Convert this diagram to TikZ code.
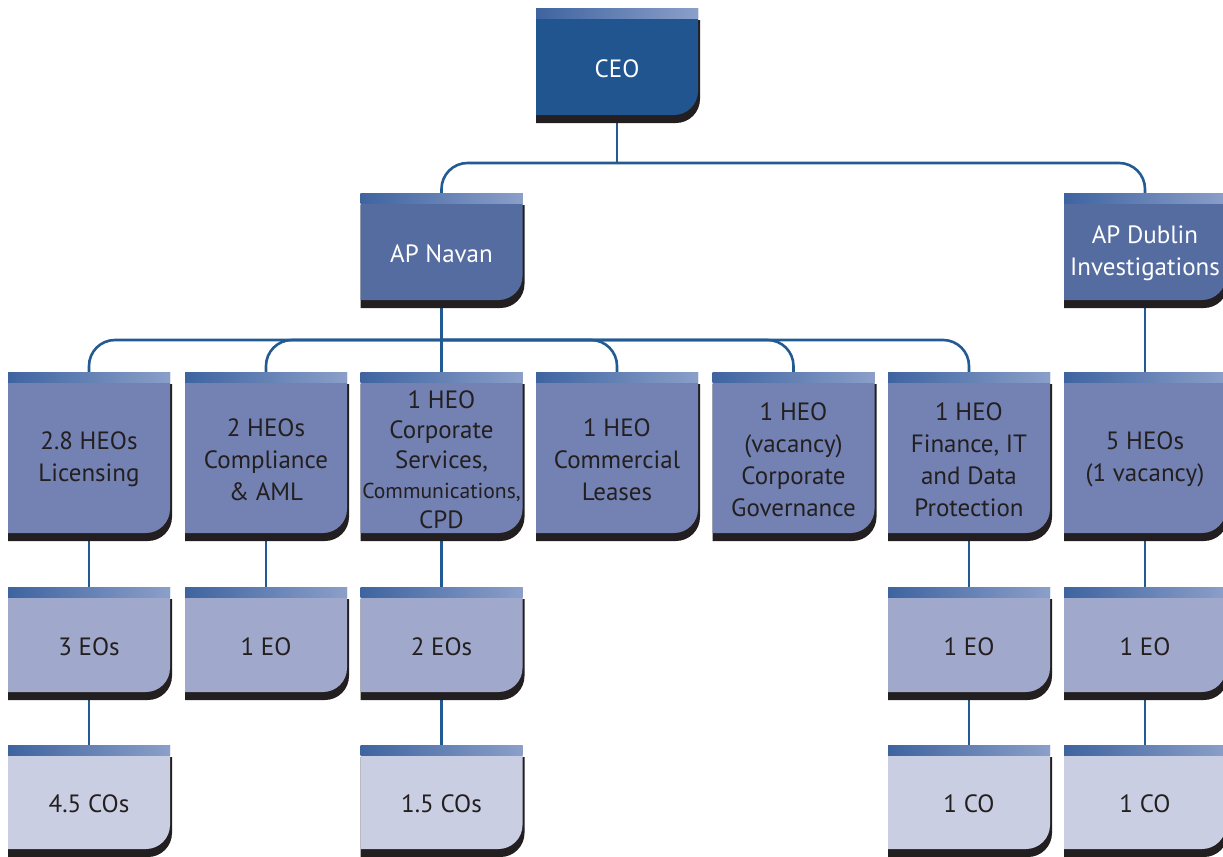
\documentclass[tikz,border=0pt]{standalone}
\usepackage{fontspec}
\setmainfont{PT Sans}
\usetikzlibrary{calc}
\pgfdeclarelayer{background}
\pgfsetlayers{background,main}

\definecolor{ceoblue}{HTML}{21558F}
\definecolor{apblue}{HTML}{556CA1}
\definecolor{heoblue}{HTML}{7382B3}
\definecolor{eoblue}{HTML}{A0A9CB}
\definecolor{coblue}{HTML}{CACEE2}
\definecolor{stripdark}{HTML}{3E64A0}
\definecolor{striplight}{HTML}{8B9FC9}
\definecolor{shadowblack}{HTML}{231F20}
\definecolor{linkblue}{HTML}{225A93}
\definecolor{textdark}{HTML}{231F20}

\tikzset{
    boxtext/.style={align=center, text=textdark, inner sep=0pt,
        font=\fontsize{12.5}{16}\selectfont},
    boxtextw/.style={boxtext, text=white},
    link/.style={draw=linkblue, line width=1.3pt},
    branch/.style={link, rounded corners=13pt},
}

% [text style]{name}{centre x}{top}{body bottom}{fill}{text}
\newcommand{\orgbox}[7][boxtext]{%
    \pgfmathsetmacro{\bxl}{#3-81}%
    \pgfmathsetmacro{\bxr}{#3+81}%
    \fill[shadowblack] (\bxl,{-#4-12}) -- ({\bxr+2},{-#4-12}) -- ({\bxr+2},{-#5-8+24})
        arc[start angle=0, end angle=-90, radius=24] -- (\bxl,{-#5-8}) -- cycle;
    \fill[#6] (\bxl,-#4) -- (\bxr,-#4) -- (\bxr,{-#5+24})
        arc[start angle=0, end angle=-90, radius=24] -- (\bxl,-#5) -- cycle;
    \shade[left color=stripdark, right color=striplight] (\bxl,-#4) rectangle (\bxr,{-#4-10});
    \node[#1] (#2) at (#3,{-(#4+14+#5)/2}) {#7};
}

\begin{document}
\begin{tikzpicture}[x=0.5pt, y=0.5pt]
    \useasboundingbox (0,0) rectangle (1223,-857);

    % top
    \orgbox[boxtextw]{ceo}{617}{8}{115}{ceoblue}{CEO}
    \orgbox[boxtextw]{navan}{441.5}{193}{300}{apblue}{AP Navan}
    \orgbox[boxtextw]{dublin}{1145}{193}{300}{apblue}{AP Dublin\\Investigations}

    % HEOs
    \orgbox{hlic}{89}{372}{533}{heoblue}{2.8 HEOs\\Licensing}
    \orgbox{hcomp}{266}{372}{533}{heoblue}{2 HEOs\\Compliance\\\& AML}
    \orgbox[boxtext, font=\fontsize{12.5}{15}\selectfont]{hcorp}{441.5}{372}{533}{heoblue}%
        {1 HEO\\Corporate\\Services,\\{\fontsize{10.8}{15}\selectfont Communications,}\\CPD}
    \orgbox{hlease}{617}{372}{533}{heoblue}{1 HEO\\Commercial\\Leases}
    \orgbox{hgov}{793.5}{372}{533}{heoblue}{1 HEO\\(vacancy)\\Corporate\\Governance}
    \orgbox{hfin}{969}{372}{533}{heoblue}{1 HEO\\Finance, IT\\and Data\\Protection}
    \orgbox{hinv}{1145}{372}{533}{heoblue}{5 HEOs\\(1 vacancy)}

    % EOs
    \orgbox{eolic}{89}{587}{692}{eoblue}{3 EOs}
    \orgbox{eocomp}{266}{587}{692}{eoblue}{1 EO}
    \orgbox{eocorp}{441.5}{587}{692}{eoblue}{2 EOs}
    \orgbox{eofin}{969}{587}{692}{eoblue}{1 EO}
    \orgbox{eoinv}{1145}{587}{692}{eoblue}{1 EO}

    % COs
    \orgbox{colic}{89}{745}{849}{coblue}{4.5 COs}
    \orgbox{cocorp}{441.5}{745}{849}{coblue}{1.5 COs}
    \orgbox{cofin}{969}{745}{849}{coblue}{1 CO}
    \orgbox{coinv}{1145}{745}{849}{coblue}{1 CO}

    \begin{pgfonlayer}{background}
        \coordinate (ceobus) at (ceo |- 0,-163);
        \coordinate (navanbus) at (navan |- 0,-340);
        \draw[link] (ceo) -- (ceobus);
        \draw[branch] (ceobus) -| (navan);
        \draw[branch] (ceobus) -| (dublin);
        \draw[link] (navan) -- (hcorp);
        \foreach \n in {hlic,hcomp,hlease,hgov,hfin}
            \draw[branch] (navanbus) -| (\n);
        \draw[link] (dublin) -- (hinv);
        \draw[link] (hlic) -- (eolic) -- (colic);
        \draw[link] (hcomp) -- (eocomp);
        \draw[link] (hcorp) -- (eocorp) -- (cocorp);
        \draw[link] (hfin) -- (eofin) -- (cofin);
        \draw[link] (hinv) -- (eoinv) -- (coinv);
    \end{pgfonlayer}
\end{tikzpicture}
\end{document}
